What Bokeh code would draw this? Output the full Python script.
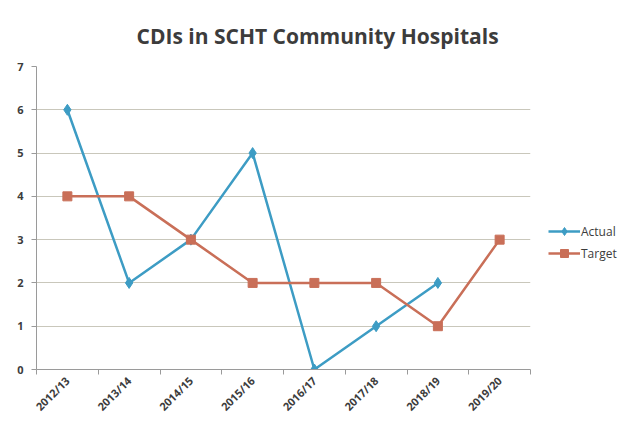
from bokeh.plotting import figure
from bokeh.models import (FixedTicker, Range1d, Legend, LegendItem, Title)
from bokeh.embed import file_html
from bokeh.resources import INLINE

# Financial years and CDI counts
years = ["2012/13", "2013/14", "2014/15", "2015/16", "2016/17", "2017/18", "2018/19", "2019/20"]
actual = [6, 2, 3, 5, 0, 1, 2]
target = [4, 4, 3, 2, 2, 2, 1, 3]

BLUE = "#3d9cc4"
RED = "#c96f58"
TEXT = "#3c3c3c"
FONT = "Open Sans"

xs_actual = [i + 0.5 for i in range(len(actual))]
xs_target = [i + 0.5 for i in range(len(target))]

p = figure(frame_width=494, frame_height=303, output_backend="svg", toolbar_location=None,
           x_range=Range1d(0, len(years)), y_range=Range1d(0, 7),
           min_border_left=36, min_border_right=93, min_border_top=66, min_border_bottom=60)
p.background_fill_color = "white"
p.border_fill_color = "white"
p.outline_line_color = None

p.title = Title(text="CDIs in SCHT Community Hospitals", align="left", offset=100,
                text_font=FONT, text_font_size="21px", text_font_style="bold",
                text_color=TEXT, standoff=34)

# x axis: labels at category centres, tick marks at boundaries
p.xaxis.ticker = FixedTicker(ticks=xs_target, minor_ticks=list(range(len(years) + 1)))
p.xaxis.major_label_overrides = {x: y for x, y in zip(xs_target, years)}
p.xaxis.major_label_orientation = 0.785
p.xaxis.major_tick_out = 0
p.xaxis.major_tick_in = 0
p.xaxis.minor_tick_out = 5
p.xaxis.minor_tick_in = 0
p.xaxis.minor_tick_line_color = "#9a9a9a"
p.xaxis.axis_line_color = "#9a9a9a"
p.xaxis.major_label_text_font = FONT
p.xaxis.major_label_text_font_size = "11px"
p.xaxis.major_label_text_font_style = "bold"
p.xaxis.major_label_text_color = TEXT
p.xaxis.major_label_standoff = 4

p.yaxis.ticker = FixedTicker(ticks=list(range(8)))
p.yaxis.major_tick_out = 5
p.yaxis.major_tick_in = 0
p.yaxis.minor_tick_out = 0
p.yaxis.minor_tick_in = 0
p.yaxis.major_tick_line_color = "#9a9a9a"
p.yaxis.axis_line_color = "#9a9a9a"
p.yaxis.major_label_text_font = FONT
p.yaxis.major_label_text_font_size = "11px"
p.yaxis.major_label_text_font_style = "bold"
p.yaxis.major_label_text_color = TEXT
p.yaxis.major_label_standoff = 8

p.xgrid.grid_line_color = None
p.ygrid.grid_line_color = "#c9c7bb"
p.ygrid.grid_line_width = 1

la = p.line(xs_actual, actual, line_color=BLUE, line_width=2.5)
ma = p.scatter(xs_actual, actual, marker="diamond", size=11, fill_color=BLUE, line_color=BLUE)
lt = p.line(xs_target, target, line_color=RED, line_width=2.5)
mt = p.scatter(xs_target, target, marker="square", size=9, fill_color=RED, line_color=RED)

legend = Legend(items=[LegendItem(label="Actual", renderers=[la, ma]),
                       LegendItem(label="Target", renderers=[lt, mt])],
                location=(18, 106), orientation="vertical", margin=0,
                background_fill_alpha=0, border_line_color=None,
                label_text_font=FONT, label_text_font_size="12px",
                label_text_color=TEXT, glyph_width=32, label_standoff=1,
                spacing=2, padding=2)
p.add_layout(legend, "right")

open("out.html", "w").write(file_html(p, INLINE))
